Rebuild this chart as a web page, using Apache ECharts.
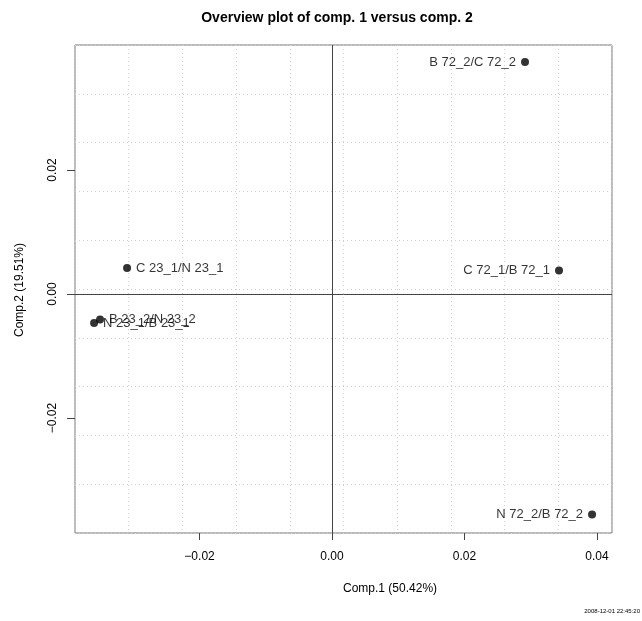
<!DOCTYPE html>
<html>
<head>
<meta charset="utf-8">
<script src="https://cdn.jsdelivr.net/npm/echarts@6/dist/echarts.min.js"></script>
<style>
html,body{margin:0;padding:0;background:#fff;}
#c{width:642px;height:621px;}
</style>
</head>
<body>
<div id="c"></div>
<script>
// ---- data ----
const pointLabels = ["B 72_2/C 72_2", "C 72_1/B 72_1", "N 72_2/B 72_2", "C 23_1/N 23_1", "B 23_2/N 23_2", "N 23_1/B 23_1"];
const comp1 = [0.02913, 0.03426, 0.03925, -0.03094, -0.03502, -0.03592];
const comp2 = [0.03742, 0.00379, -0.03556, 0.00420, -0.00411, -0.00468];
const xTicks = [-0.02, 0, 0.02, 0.04];
const yTicks = [-0.02, 0, 0.02];
const titleText = "Overview plot of comp. 1 versus comp. 2";
const xTitle = "Comp.1 (50.42%)";
const yTitle = "Comp.2 (19.51%)";
const stamp = "2008-12-01 22:45:20";

const xMin = -0.0388, xMax = 0.04226, yMin = -0.03855, yMax = 0.04016;
const FONT = "Liberation Sans, Arial, sans-serif";
const fmt = v => (v < 0 ? "\u2212" : "") + Math.abs(v).toFixed(2);

const chart = echarts.init(document.getElementById('c'), null, {renderer: 'canvas'});
const gridLine = {show: true, lineStyle: {color: '#d0d0d0', type: [1, 3], width: 1}};
chart.setOption({
  animation: false,
  backgroundColor: '#fff',
  title: {text: titleText, left: 332, top: 6, textAlign: 'center',
    textStyle: {fontFamily: FONT, fontWeight: 'bold', fontSize: 14, color: '#000'}},
  grid: {left: 75, top: 45, right: 30, bottom: 88, show: true, borderColor: '#777', borderWidth: 1, backgroundColor: 'transparent'},
  xAxis: [
    {type: 'value', min: xMin, max: xMax, position: 'bottom',
      axisLine: {show: false, onZero: false}, splitLine: {show: false},
      axisTick: {show: true, length: 7, customValues: xTicks, lineStyle: {color: '#444'}},
      axisLabel: {customValues: xTicks, formatter: fmt, margin: 18, fontFamily: FONT, fontSize: 12, color: '#000'}},
    {type: 'value', min: 0, max: 10, interval: 1, position: 'top',
      axisLine: {show: false, onZero: false}, axisTick: {show: false}, axisLabel: {show: false}, splitLine: gridLine}
  ],
  yAxis: [
    {type: 'value', min: yMin, max: yMax, position: 'left',
      axisLine: {show: false, onZero: false}, splitLine: {show: false},
      axisTick: {show: true, length: 8, customValues: yTicks, lineStyle: {color: '#444'}},
      axisLabel: {customValues: yTicks, formatter: fmt, rotate: 90, margin: 16, fontFamily: FONT, fontSize: 12, color: '#000'}},
    {type: 'value', min: 0, max: 10, interval: 1, position: 'right',
      axisLine: {show: false, onZero: false}, axisTick: {show: false}, axisLabel: {show: false}, splitLine: gridLine}
  ],
  series: [{
    type: 'scatter', xAxisIndex: 0, yAxisIndex: 0,
    symbol: 'circle', symbolSize: 8,
    itemStyle: {color: '#000'},
    data: comp1.map((x, i) => ({
      value: [x, comp2[i]],
      label: {show: true, formatter: pointLabels[i], position: x < 0 ? 'right' : 'left', distance: 5,
        fontFamily: FONT, fontSize: 13, color: '#000'}
    })),
    markLine: {silent: true, symbol: 'none', label: {show: false},
      lineStyle: {color: '#444', type: 'solid', width: 1},
      data: [{xAxis: 0}, {yAxis: 0}]},
    z: 5
  }],
  graphic: [
    {type: 'text', left: 343, top: 583, style: {text: xTitle, font: '12px ' + FONT, fill: '#000', textAlign: 'center'}},
    {type: 'text', x: 20, y: 290, rotation: Math.PI / 2,
      style: {text: yTitle, font: '12px ' + FONT, fill: '#000', textAlign: 'center', textVerticalAlign: 'middle'}},
    {type: 'text', right: 2, top: 608, style: {text: stamp, font: '6px ' + FONT, fill: '#000'}}
  ]
});
</script>
</body>
</html>
